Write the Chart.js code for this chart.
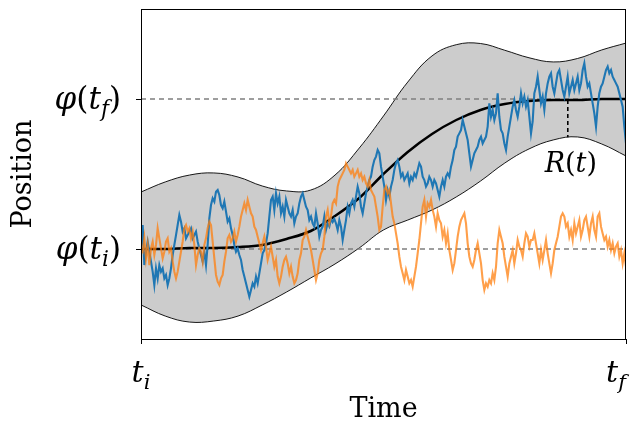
<!DOCTYPE html>
<html>
<head>
<meta charset="utf-8">
<script src="https://cdn.jsdelivr.net/npm/chart.js@4.4.1/dist/chart.umd.min.js"></script>
<style>
  body { margin: 0; background: #fff; }
  .wrap { width: 640px; height: 431px; }
</style>
</head>
<body>
<div class="wrap"><canvas id="myChart"></canvas></div>
<script>
// smooth curves, sampled at t = 0, 0.05 ... 1
var smoothT = [0, 0.05, 0.1, 0.15, 0.2, 0.25, 0.3, 0.35, 0.4, 0.45, 0.5,
    0.55, 0.6, 0.65, 0.7, 0.75, 0.8, 0.85, 0.9, 0.95, 1];
var meanPath = [0, 0, 0.007, 0.007, 0.013, 0.027, 0.067, 0.12, 0.22, 0.34, 0.5,
    0.647, 0.767, 0.86, 0.927, 0.967, 0.987, 0.993, 0.993, 1, 1];
var bandUpper = [0.38, 0.447, 0.493, 0.507, 0.48, 0.42, 0.387, 0.393, 0.493, 0.673, 0.887,
    1.113, 1.287, 1.362, 1.37, 1.325, 1.275, 1.247, 1.27, 1.327, 1.373];
var bandLower = [-0.373, -0.447, -0.487, -0.48, -0.447, -0.373, -0.287, -0.193, -0.1, 0.007, 0.127,
    0.193, 0.26, 0.347, 0.453, 0.573, 0.667, 0.727, 0.747, 0.7, 0.62];

// two sample paths, equal time steps from t_i to t_f
var blueWalk = [
    0, 0.16, -0.107, -0.018, 0.049, -0.018, -0.084, -0.151, -0.24, -0.129,
    -0.196, -0.107, -0.151, -0.129, -0.196, -0.173, -0.24, -0.196, -0.129, -0.04,
    0.027, 0.093, 0.16, 0.227, 0.182, 0.116, 0.138, 0.071, 0.093, 0.116,
    0.138, 0.071, 0.093, 0.116, 0.049, 0.004, -0.04, -0.084, -0.018, -0.107,
    0.027, 0.204, 0.293, 0.338, 0.316, 0.382, 0.393, 0.36, 0.293, 0.271,
    0.316, 0.249, 0.182, 0.204, 0.138, 0.093, 0.027, -0.018, 0.004,
    -0.04, -0.073, -0.14, -0.184, -0.229, -0.273, -0.318, -0.273, -0.229, -0.251,
    -0.184, -0.229, -0.162, -0.096, -0.029, -0.007, 0.038, 0.104, 0.216, 0.327,
    0.349, 0.26, 0.371, 0.304, 0.349, 0.238, 0.282, 0.216, 0.327, 0.282,
    0.238, 0.216, 0.26, 0.171, 0.216, 0.238, 0.304, 0.349, 0.371, 0.327,
    0.282, 0.26, 0.193, 0.216, 0.171, 0.149, 0.238, 0.171, 0.082, 0.127,
    0.149, 0.216, 0.127, 0.171, 0.15, 0.2, 0.18, 0.2, 0.17,
    0.127, 0.193, 0.149, 0.06, 0.127, 0.193, 0.282, 0.238, 0.304, 0.327,
    0.282, 0.349, 0.416, 0.371, 0.282, 0.238, 0.304, 0.371, 0.416, 0.46,
    0.482, 0.549, 0.593, 0.616, 0.66, 0.638, 0.549, 0.482, 0.416, 0.327,
    0.393, 0.349, 0.416, 0.46, 0.527, 0.571, 0.593, 0.549, 0.482, 0.504,
    0.46, 0.482, 0.504, 0.438, 0.482, 0.46, 0.504, 0.482, 0.527, 0.571,
    0.549, 0.482, 0.46, 0.416, 0.438, 0.482, 0.46,
    0.416, 0.46, 0.438, 0.393, 0.349, 0.416, 0.46, 0.416, 0.482, 0.504,
    0.482, 0.549, 0.593, 0.66, 0.682, 0.749, 0.771, 0.793, 0.86, 0.816,
    0.771, 0.727, 0.638, 0.549, 0.593, 0.638, 0.66, 0.682, 0.727, 0.749,
    0.704, 0.727, 0.749, 0.816, 0.971, 0.882, 0.927, 0.86, 0.904, 1.038,
    0.882, 0.793, 0.771, 0.704, 0.66, 0.749, 0.816, 0.882, 0.949, 0.993,
    0.927, 0.882, 0.949, 1.038, 0.971, 1.016, 0.949, 0.993, 0.882, 0.771,
    0.85, 1.038, 1.082, 1.149, 1.06, 0.971, 1.016, 0.927, 1.038, 1.104,
    1.149, 1.171, 1.082, 1.038, 1.104, 1.171, 1.193, 1.127, 1.06, 1.016,
    1.082, 1.149, 1.038, 1.082, 1.127, 1.06, 1.104, 1.149, 1.06, 1.104,
    1.193, 1.238, 1.149, 1.082, 1.104, 1.038, 0.971, 0.904, 0.816, 0.949,
    1.038, 1.082, 1.104, 1.149, 1.193, 1.216, 1.171, 1.193, 1.149, 1.127,
    1.104, 1.082, 1.038, 0.993, 0.949, 0.816, 0.704];
var orangeWalk = [
    0, -0.018, 0.071, -0.062, 0.027, -0.107, 0.004, 0.049, -0.04, 0.027,
    0.138, 0.071, 0.004, -0.062, -0.018, 0.049, 0.071, -0.018, 0.004, -0.084,
    -0.151, -0.196, -0.151, -0.084, -0.018, 0.049, 0.138, 0.16, 0.116, 0.138,
    0.071, 0.116, 0.027, -0.107, -0.04, 0.004, -0.018, -0.084, 0.027, 0.071,
    0.138, 0.182, 0.16, 0.049, -0.062, -0.173, -0.218, -0.24, -0.196, -0.173,
    -0.084, -0.018, 0.071, 0.093, 0.049, 0.071, 0.116, 0.049, 0.093,
    0.149, 0.216, 0.26, 0.304, 0.26, 0.327, 0.282, 0.238, 0.216, 0.149,
    0.127, 0.082, 0.038, -0.007, 0.038, 0.082, 0.016, -0.073, -0.029, 0.016,
    -0.051, -0.118, -0.073, -0.184, -0.229, -0.184, -0.118, -0.073, -0.051, -0.096,
    -0.162, -0.118, -0.184, -0.229, -0.207, -0.162, -0.073, -0.029, 0.06, 0.082,
    0.127, 0.082, 0.038, -0.007, -0.073, -0.14, -0.207, -0.162, -0.073, -0.029,
    -0.007, 0.082, 0.216, 0.26, 0.171, 0.216, 0.304, 0.327, 0.304,
    0.416, 0.46, 0.482, 0.504, 0.527, 0.571, 0.549, 0.527, 0.504, 0.527,
    0.482, 0.504, 0.527, 0.482, 0.504, 0.46, 0.482, 0.438, 0.416, 0.46,
    0.393, 0.371, 0.349, 0.282, 0.216, 0.127, 0.149, 0.282, 0.393, 0.416,
    0.371, 0.393, 0.304, 0.216, 0.171, 0.104, 0.038, -0.051, -0.118, -0.162,
    -0.207, -0.14, -0.184, -0.229, -0.207, -0.251, -0.184, -0.118, -0.029, 0.06,
    0.171, 0.282, 0.327, 0.216, 0.304, 0.282, 0.327,
    0.26, 0.216, 0.149, 0.238, 0.193, 0.171, 0.082, 0.127, 0.038, 0.104,
    -0.007, -0.073, -0.14, -0.096, -0.007, 0.082, 0.149, 0.193, 0.216, 0.238,
    0.171, 0.038, -0.051, -0.096, -0.118, -0.073, -0.007, 0.038, -0.029, -0.096,
    -0.207, -0.273, -0.229, -0.251, -0.207, -0.229, -0.162, -0.207, -0.118, 0.038,
    0.127, 0.082, 0.038, -0.051, -0.118, -0.184, -0.096, -0.051, -0.007, -0.096,
    -0.029, 0.06, 0.016, -0.007, -0.051, 0.038, 0.104, 0.082, 0.016, 0.06,
    0.06, 0.104, 0.038, -0.029, -0.096, -0.007, -0.073, -0.007, 0.06, -0.029,
    -0.096, -0.162, -0.096, -0.007, 0.038, 0.082, 0.149, 0.216, 0.238, 0.216,
    0.149, 0.171, 0.082, 0.127, 0.06, 0.171, 0.104, 0.149, 0.193, 0.082,
    0.127, 0.193, 0.216, 0.149, 0.082, 0.171, 0.216, 0.127, 0.082, 0.216,
    0.238, 0.149, 0.104, 0.06, 0.082, 0.016, 0.06, -0.007, 0.038, -0.029,
    0.016, 0.038, -0.051, -0.007, -0.096, -0.029, -0.118];

// levels phi(t_i), phi(t_f) and the R(t) marker
var levelValues = [0, 1];
var levelSubs = ["i", "f"];
var timeTicks = [0, 1];
var rLineT = [0.88, 0.88];
var rLineY = [0.993, 0.745];

function zip(xs, ys) {
    return ys.map((v, i) => ({ x: xs[i], y: v }));
}
function walk(vals) {
    return vals.map((v, k) => ({ x: k / (vals.length - 1), y: v }));
}

const serif = '"DejaVu Serif", "Liberation Serif", serif';

// draws a row of text pieces: [text, italic, sub]
function drawPieces(ctx, pieces, x, y, size, align) {
    let widths = pieces.map(p => {
        ctx.font = (p[1] ? "italic " : "") + (p[2] ? size * 0.7 : size) + "px " + serif;
        return ctx.measureText(p[0]).width;
    });
    let total = widths.reduce((a, b) => a + b, 0);
    let cx = align === "right" ? x - total : align === "center" ? x - total / 2 : x;
    pieces.forEach((p, i) => {
        ctx.font = (p[1] ? "italic " : "") + (p[2] ? size * 0.7 : size) + "px " + serif;
        ctx.fillText(p[0], cx, p[2] ? y + size * 0.22 : y);
        cx += widths[i];
    });
}

var labelPlugin = {
    id: "labels",
    afterDraw(chart) {
        const ctx = chart.ctx;
        const xs = chart.scales.x, ys = chart.scales.y;
        const area = chart.chartArea;
        ctx.save();
        ctx.fillStyle = "#000";
        ctx.textBaseline = "alphabetic";
        // frame
        ctx.strokeStyle = "#000";
        ctx.lineWidth = 1;
        ctx.strokeRect(area.left + 0.5, area.top + 0.5, area.right - area.left - 1, area.bottom - area.top);

        levelValues.forEach((v, i) => {
            let py = ys.getPixelForValue(v);
            drawPieces(ctx, [["φ", true], ["(", false], ["t", true], [levelSubs[i], true, true], [")", false]],
                area.left - 20, py + 10, 31, "right");
        });
        timeTicks.forEach((v, i) => {
            let px = xs.getPixelForValue(v);
            drawPieces(ctx, [["t", true], [levelSubs[i], true, true]],
                i === 0 ? px : px - 10, area.bottom + 43, 30, "center");
        });
        drawPieces(ctx, [["R", true], ["(", false], ["t", true], [")", false]],
            xs.getPixelForValue(rLineT[0]) + 3, ys.getPixelForValue(rLineY[1]) + 35, 27, "center");

        ctx.font = "27px " + serif;
        ctx.textAlign = "center";
        ctx.fillText("Time", (area.left + area.right) / 2, 417);
        ctx.translate(31, (area.top + area.bottom) / 2);
        ctx.rotate(-Math.PI / 2);
        ctx.fillText("Position", 0, 0);
        ctx.restore();
    }
};

const ctx = document.getElementById("myChart").getContext("2d");

var myjson = {
    type: "line",
    data: {
        datasets: [{
            label: "upper",
            data: zip(smoothT, bandUpper),
            borderColor: "#000",
            borderWidth: 0.9,
            backgroundColor: "#cccccc",
            fill: { target: 1 },
            tension: 0.4,
            order: 10,
        }, {
            label: "lower",
            data: zip(smoothT, bandLower),
            borderColor: "#000",
            borderWidth: 0.9,
            fill: false,
            tension: 0.4,
            order: 9,
        }, {
            label: "phi_i",
            data: [{ x: 0, y: levelValues[0] }, { x: 1, y: levelValues[0] }],
            borderColor: "#7f7f7f",
            borderWidth: 1.3,
            borderDash: [5, 4],
            order: 8,
        }, {
            label: "phi_f",
            data: [{ x: 0, y: levelValues[1] }, { x: 1, y: levelValues[1] }],
            borderColor: "#7f7f7f",
            borderWidth: 1.3,
            borderDash: [5, 4],
            order: 8,
        }, {
            label: "mean",
            data: zip(smoothT, meanPath),
            borderColor: "#000",
            borderWidth: 2.5,
            cubicInterpolationMode: "monotone",
            order: 5,
        }, {
            label: "R",
            data: zip(rLineT, rLineY),
            borderColor: "#000",
            borderWidth: 1.6,
            borderDash: [4, 3],
            order: 4,
        }, {
            label: "blue",
            data: walk(blueWalk),
            borderColor: "#1f77b4",
            borderWidth: 2.1,
            order: 3,
        }, {
            label: "orange",
            data: walk(orangeWalk),
            borderColor: "rgba(255, 127, 14, 0.75)",
            borderWidth: 2.1,
            order: 2,
        }],
    },
    options: {
        responsive: true,
        maintainAspectRatio: false,
        animation: false,
        events: [],
        layout: { padding: { left: 136, right: 14, top: 9, bottom: 87 } },
        elements: { point: { radius: 0 }, line: { tension: 0 } },
        plugins: { legend: { display: false }, tooltip: { enabled: false } },
        scales: {
            x: {
                type: "linear",
                min: 0,
                max: 1,
                afterBuildTicks: s => { s.ticks = timeTicks.map(v => ({ value: v })); },
                ticks: { display: false },
                grid: { drawOnChartArea: false, drawTicks: true, tickLength: 5, color: "#000" },
                border: { color: "#000", width: 1 },
            },
            y: {
                type: "linear",
                min: -0.6,
                max: 1.6,
                afterBuildTicks: s => { s.ticks = levelValues.map(v => ({ value: v })); },
                ticks: { display: false },
                grid: { drawOnChartArea: false, drawTicks: true, tickLength: 5, color: "#000" },
                border: { color: "#000", width: 1 },
            },
        },
    },
    plugins: [labelPlugin],
};

const myChart = new Chart(ctx, myjson);
</script>
</body>
</html>
